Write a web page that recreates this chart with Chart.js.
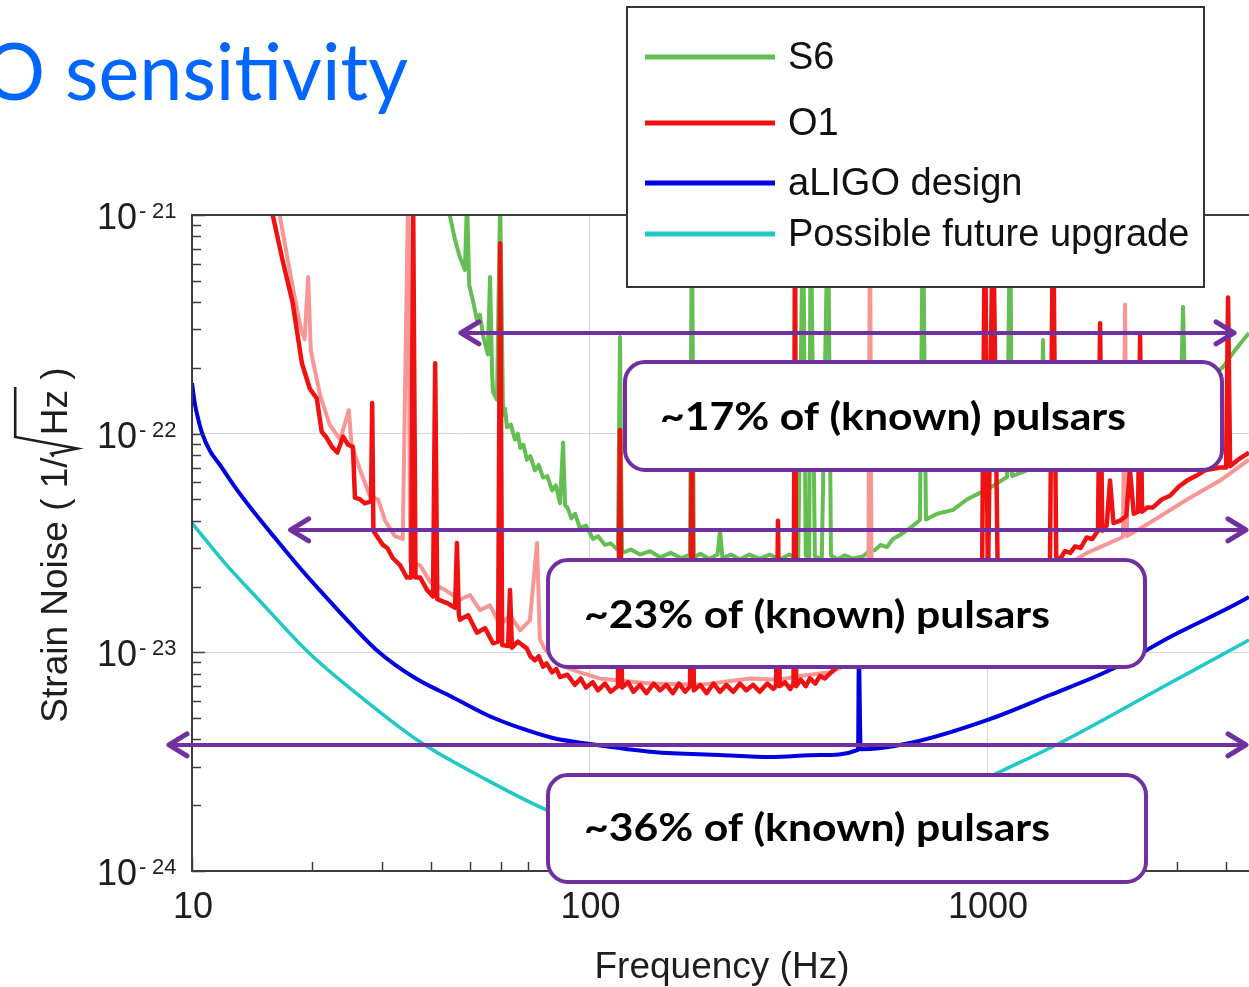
<!DOCTYPE html>
<html>
<head>
<meta charset="utf-8">
<script src="https://cdn.jsdelivr.net/npm/chart.js@4.4.0/dist/chart.umd.min.js"></script>
<style>
html,body{margin:0;padding:0;background:#fff;overflow:hidden}
#wrap{position:relative;width:1249px;height:987px}
</style>
</head>
<body>
<div id="wrap"><canvas id="c"></canvas></div>
<script>
// ---------------- DATA (frequency Hz, strain 1/sqrt(Hz)) ----------------
const seriesLabels = ['S6', 'O1', 'aLIGO design', 'Possible future upgrade'];

const s6Data = [
 [43.8,1.2e-21],[44.6,9.8e-22],[45.9,7.7e-22],[47.2,6.4e-22],[48.6,5.6e-22],[49.2,1.2e-21],[49.8,4.8e-22],
 [51.0,4.0e-22],[52.1,3.3e-22],[53.0,3.5e-22],[54.0,2.8e-22],[55.5,2.3e-22],[56.2,5.2e-22],[56.9,1.85e-22],
 [57.2,1.55e-22],[58.5,1.43e-22],[59.6,1.2e-21],[60.6,1.22e-22],[61.3,1.3e-22],[62.0,1.07e-22],[63.4,1.1e-22],
 [64.9,9.4e-23],[66.0,1.0e-22],[67.0,8.6e-23],[68.2,8.9e-23],[69.6,7.6e-23],[71.0,7.9e-23],[72.9,6.8e-23],
 [74.5,7.2e-23],[76.4,6.3e-23],[78.3,6.4e-23],[80.5,5.5e-23],[82.3,5.8e-23],[84.3,4.8e-23],[85.8,9.1e-23],
 [86.8,4.7e-23],[88.0,4.6e-23],[90.0,4.1e-23],[92.0,4.3e-23],[94.6,3.7e-23],[98.0,3.8e-23],[102,3.3e-23],
 [105,3.4e-23],[109.4,3.1e-23],[113,3.15e-23],[117.9,2.94e-23],[119.3,2.77e-22],[120.7,2.85e-23],[127,2.95e-23],
 [134,2.8e-23],[142,2.9e-23],[150.5,2.72e-23],[160,2.85e-23],[170,2.7e-23],[179,2.8e-23],[181,1.2e-21],
 [183,2.72e-23],[190,2.82e-23],[200,2.68e-23],[210,2.8e-23],[213,3.6e-23],[216,2.7e-23],[227,2.8e-23],
 [239,2.66e-23],[252,2.8e-23],[268,2.68e-23],[284,2.8e-23],[301,2.66e-23],[318,2.8e-23],[335,2.68e-23],
 [344.5,1.2e-21],[350,2.78e-23],[357,2.68e-23],[360,1.2e-21],[369,2.75e-23],[384,2.66e-23],[398,1.2e-21],
 [405,2.78e-23],[420,2.66e-23],[439,2.78e-23],[460,2.68e-23],[488,2.75e-23],[505,2.9e-23],[523,2.94e-23],
 [540,3.1e-23],[560,3.03e-23],[580,3.3e-23],[604,3.44e-23],[640,3.7e-23],[678,4.03e-23],[690,1.2e-21],
 [702,4.05e-23],[750,4.3e-23],[821,4.48e-23],[890,5.0e-23],[960,5.36e-23],[1040,5.8e-23],[1123,6.34e-23],
 [1143,1.2e-21],[1156,6.4e-23],[1260,6.8e-23],[1367,7.1e-23],[1383,2.68e-22],[1399,7.2e-23],[1925,1.04e-22],
 [2570,1.28e-22],[3076,1.5e-22],[3112,3.8e-22],[3150,1.52e-22],[3640,1.8e-22],[3925,2.02e-22],[4207,2.41e-22],
 [4561,2.89e-22],[4860,3.3e-22]
];

const o1HData = [
 [15.5,1.2e-21],[16.0,9.8e-22],[16.9,6.2e-22],[17.9,4.0e-22],[18.9,2.1e-22],[19.8,1.6e-22],[20.6,1.45e-22],
 [21.2,1.02e-22],[21.8,9.6e-23],[22.5,8.7e-23],[23.2,8.2e-23],[24.0,9.7e-23],[24.7,8.9e-23],[25.4,8.7e-23],
 [25.7,5.1e-23],[26.5,5.0e-23],[27.2,4.8e-23],[28.2,4.9e-23],[28.4,1.38e-22],[28.6,3.6e-23],[29.5,3.3e-23],
 [30.2,3.1e-23],[31.0,3.0e-23],[32.0,2.7e-23],[33.4,2.5e-23],[34.7,2.2e-23],[35.6,2.2e-23],[36.0,1.2e-21],
 [36.5,2.2e-23],[37.5,2.2e-23],[39.0,1.93e-23],[40.4,1.8e-23],[40.9,2.1e-22],[41.4,1.75e-23],[43.8,1.68e-23],
 [45.9,1.6e-23],[46.4,3.16e-23],[46.9,1.5e-23],[47.2,1.41e-23],[49.5,1.48e-23],[52.1,1.23e-23],[54.6,1.29e-23],
 [57.2,1.10e-23],[58.9,1.12e-23],[59.6,7.4e-22],[60.3,1.08e-23],[62.4,1.07e-23],[63.1,1.93e-23],[63.8,1.05e-23],
 [66.0,1.12e-23],[69.6,1.04e-23],[71.0,9.6e-24],[72.9,9.2e-24],[74.5,9.6e-24],[76.4,8.6e-24],[78.0,8.9e-24],
 [80.5,8.1e-24],[82.5,8.4e-24],[84.3,7.7e-24],[88,7.9e-24],[91.9,7.1e-24],[95,7.6e-24],[98,6.9e-24],
 [101.9,7.3e-24],[105,6.7e-24],[109.4,7.2e-24],[113,6.6e-24],[117.9,7.0e-24],[119.3,1.04e-22],[120.7,6.9e-24],
 [125,7.3e-24],[129,6.6e-24],[134,7.1e-24],[139,6.5e-24],[145,7.2e-24],[150.5,6.7e-24],[156,7.1e-24],
 [162,6.5e-24],[168,7.2e-24],[174,6.6e-24],[179,7.0e-24],[181,1.2e-22],[183,6.7e-24],[190,7.1e-24],
 [197,6.5e-24],[205,7.2e-24],[213,6.6e-24],[221,7.1e-24],[230,6.6e-24],[239,7.2e-24],[248,6.7e-24],
 [258,7.1e-24],[268,6.6e-24],[280,7.2e-24],[290,6.8e-24],[294.6,7.0e-24],[298,4.0e-23],[301,7.0e-24],
 [310,7.3e-24],[320,6.8e-24],[326,7.2e-24],[328.9,1.2e-21],[331,7.0e-24],[340,7.5e-24],[350,7.0e-24],
 [358.6,7.6e-24],[370,7.2e-24],[380,7.8e-24],[391,7.6e-24],[420,8.6e-24],[479,1.02e-23],[540,1.15e-23],
 [604,1.33e-23],[700,1.55e-23],[807,1.74e-23],[900,1.85e-23],[971,1.93e-23],[988,1.2e-21],[1005,1.9e-23],
 [1035,1.2e-21],[1065,2.0e-23],[1140,2.1e-23],[1211,2.2e-23],[1300,2.4e-23],[1400,2.5e-23],[1440,2.56e-23],
 [1466,1.2e-21],[1493,2.73e-23],[1530,2.68e-23],[1570,2.9e-23],[1620,2.85e-23],[1665,3.05e-23],[1720,3.0e-23],
 [1780,3.35e-23],[1840,3.3e-23],[1902,3.6e-23],[1925,3.2e-22],[1949,3.6e-23],[2000,3.8e-23],[2039,6.1e-23],
 [2080,3.9e-23],[2161,4.0e-23],[2240,4.2e-23],[2289,6.8e-23],[2340,4.3e-23],[2399,4.4e-23],[2427,2.8e-22],
 [2455,4.4e-23],[2530,4.6e-23],[2616,4.6e-23],[2750,5.0e-23],[2887,5.2e-23],[3030,5.7e-23],[3185,6.1e-23],
 [3350,6.4e-23],[3535,6.8e-23],[3857,7.0e-23],[3994,7.0e-23],[4040,4.2e-22],[4088,7.1e-23],[4281,7.6e-23],
 [4561,8.2e-23],[4800,8.6e-23]
];

const o1LData = [
 [16.2,1.2e-21],[16.65,9.8e-22],[17.6,5.6e-22],[18.7,3.14e-22],[19.2,2.7e-22],[19.6,5.2e-22],[19.9,2.4e-22],
 [21.0,1.5e-22],[22.2,1.1e-22],[23.6,9.4e-23],[24.8,1.28e-22],[25.2,8.9e-23],[26.5,6.8e-23],[28.0,5.2e-23],
 [29.4,5.0e-23],[30.6,4.0e-23],[32.4,3.4e-23],[33.9,3.3e-23],[34.95,1.2e-21],[35.4,2.6e-23],[37.5,2.5e-23],
 [39.7,2.1e-23],[43.3,1.93e-23],[47.2,1.74e-23],[50,1.83e-23],[53,1.56e-23],[56.2,1.64e-23],[59.6,1.33e-23],
 [63.1,1.48e-23],[66.9,1.26e-23],[70.8,1.4e-23],[73.8,3.16e-23],[75,1.15e-23],[77.3,1.03e-23],[84.3,8.75e-24],
 [94.6,8.1e-24],[106,7.6e-24],[142,7.2e-24],[190,7.1e-24],[253,7.6e-24],[300,7.5e-24],[338,7.8e-24],
 [403,8.1e-24],[502,9.7e-24],[507.7,1.2e-21],[513,9.7e-24],[604,1.14e-23],[807,1.48e-23],[1078,1.83e-23],
 [1440,2.26e-23],[1785,2.85e-23],[2198,3.37e-23],[2225,3.9e-22],[2252,3.4e-23],[2616,4.0e-23],[3185,5.0e-23],
 [3857,6.1e-23],[4561,7.6e-23],[4800,8.0e-23]
];

const designData = [
 [10,1.705e-22],[10.17,1.367e-22],[10.35,1.18e-22],[10.6,1.007e-22],[11.1,8.33e-23],[11.76,7.19e-23],
 [12.83,5.7e-23],[13.99,4.62e-23],[16.18,3.33e-23],[18.69,2.43e-23],[21.6,1.81e-23],[24.97,1.36e-23],
 [29.5,1.004e-23],[36.4,7.63e-24],[45.1,6.25e-24],[55.2,5.17e-24],[66.9,4.51e-24],[80.9,4.06e-24],
 [100,3.81e-24],[144.5,3.5e-24],[213,3.39e-24],[285,3.32e-24],[380,3.39e-24],[473.7,3.58e-24],[476,1.0e-23],
 [481,3.6e-24],[640,3.85e-24],[1000,4.9e-24],[1440,6.38e-24],[2039,8.3e-24],[2887,1.175e-23],[4561,1.79e-23],
 [4800,1.9e-23]
];

const upgradeData = [
 [10,3.9e-23],[12.1,2.56e-23],[14.74,1.736e-23],[19.7,9.93e-24],[27.2,6.05e-24],[37.5,3.89e-24],[55.2,2.61e-24],
 [78.2,1.9e-24],[100,1.62e-24],[150,1.31e-24],[250,1.22e-24],[400,1.31e-24],[600,1.62e-24],[800,2.19e-24],
 [1078,2.84e-24],[1526,3.85e-24],[2887,7.24e-24],[4561,1.139e-23],[4800,1.2e-23]
];

const xTickValues = [10, 100, 1000];
const xTickLabels = ['10', '100', '1000'];
const yTickValues = [1e-21, 1e-22, 1e-23, 1e-24];
const yTickExponents = ['-21', '-22', '-23', '-24'];

// sensitivity-level arrows: [from Hz, to Hz, strain level]
const arrowFromHz = [47.2, 17.6, 8.7];
const arrowToHz = [4207, 4508, 4508];
const arrowLevel = [2.89e-22, 3.63e-23, 3.77e-24];
const calloutTexts = ['~17% of (known) pulsars', '~23% of (known) pulsars', '~36% of (known) pulsars'];

// ---------------- STYLE ----------------
const RED = 'rgb(238,18,18)', PINK = 'rgb(248,150,150)', GREEN = 'rgb(100,190,82)',
      BLUE = 'rgb(0,0,225)', CYAN = 'rgb(32,200,200)', PURPLE = '#7030a0';
const SANS = '"Liberation Sans", Arial, sans-serif';

const toXY = arr => arr.map(p => ({x: p[0], y: p[1]}));
const common = {pointRadius: 0, tension: 0, fill: false, borderJoinStyle: 'round', clip: 0};

function minorLog(min, max) {
  const out = [];
  for (let e = Math.floor(Math.log10(min)); e <= Math.ceil(Math.log10(max)); e++) {
    for (let m = 1; m <= 9; m++) {
      const v = m * Math.pow(10, e);
      if (v >= min * 0.999 && v <= max * 1.001) out.push({v, major: m === 1});
    }
  }
  return out;
}

function rrect(ctx, x, y, w, h, r) {
  ctx.beginPath();
  ctx.moveTo(x + r, y);
  ctx.arcTo(x + w, y, x + w, y + h, r);
  ctx.arcTo(x + w, y + h, x, y + h, r);
  ctx.arcTo(x, y + h, x, y, r);
  ctx.arcTo(x, y, x + w, y, r);
  ctx.closePath();
}

const deco = {
  id: 'deco',
  beforeDraw(chart) {
    const c = chart.ctx;
    c.save(); c.fillStyle = '#fff'; c.fillRect(0, 0, chart.width, chart.height); c.restore();
  },
  afterDatasetsDraw(chart) {
    const ctx = chart.ctx, a = chart.chartArea, xs = chart.scales.x, ys = chart.scales.y;
    ctx.save();
    // frame
    ctx.strokeStyle = '#3c3c3c'; ctx.lineWidth = 2;
    ctx.beginPath();
    ctx.moveTo(a.right + 5, a.top); ctx.lineTo(a.left, a.top); ctx.lineTo(a.left, a.bottom); ctx.lineTo(a.right + 5, a.bottom);
    ctx.stroke();
    // inward ticks
    ctx.lineWidth = 1.5;
    minorLog(xs.min, xs.max).forEach(t => {
      const px = Math.round(xs.getPixelForValue(t.v)) + 0.5;
      const len = t.major ? 13 : 9;
      ctx.beginPath(); ctx.moveTo(px, a.bottom); ctx.lineTo(px, a.bottom - len); ctx.stroke();
    });
    minorLog(ys.min, ys.max).forEach(t => {
      const py = Math.round(ys.getPixelForValue(t.v)) + 0.5;
      const len = t.major ? 13 : 9;
      ctx.beginPath(); ctx.moveTo(a.left, py); ctx.lineTo(a.left + len, py); ctx.stroke();
    });
    // tick labels
    ctx.fillStyle = '#1e1e1e';
    ctx.font = '36px ' + SANS; ctx.textAlign = 'center'; ctx.textBaseline = 'alphabetic';
    xTickValues.forEach((v, i) => ctx.fillText(xTickLabels[i], xs.getPixelForValue(v) + 1, 918));
    yTickValues.forEach((v, i) => {
      const py = ys.getPixelForValue(v);
      ctx.font = '36px ' + SANS; ctx.textAlign = 'right';
      ctx.fillText('10', 137, py + 14);
      ctx.font = '22px ' + SANS; ctx.textAlign = 'left';
      const ex = yTickExponents[i];
      ctx.fillText(ex.charAt(0), 139, py + 3);
      ctx.fillText(ex.slice(1), 152, py + 3);
    });
    // x axis title
    ctx.font = '37px ' + SANS; ctx.textAlign = 'center';
    ctx.fillText('Frequency (Hz)', 722, 978);
    // y axis title with radical
    {
      const s = 37;
      ctx.font = s + 'px ' + SANS;
      const p1 = 'Strain Noise ( 1/', p2 = 'Hz )';
      const w1 = ctx.measureText(p1).width, w2 = ctx.measureText(p2).width, wr = 0.6 * s;
      const wHz = ctx.measureText('Hz').width;
      const total = w1 + wr + w2;
      ctx.save();
      ctx.translate(67, 545); ctx.rotate(-Math.PI / 2);
      ctx.textAlign = 'left';
      const u0 = -total / 2;
      ctx.fillText(p1, u0, 0);
      const u1 = u0 + w1;
      ctx.fillText(p2, u1 + wr, 0);
      ctx.strokeStyle = '#1e1e1e'; ctx.lineWidth = 2.6; ctx.lineJoin = 'miter';
      ctx.beginPath();
      ctx.moveTo(u1 + 0.02 * s, -0.36 * s);
      ctx.lineTo(u1 + 0.1 * s, -0.42 * s);
      ctx.lineTo(u1 + 0.24 * s, 0.27 * s);
      ctx.lineTo(u1 + 0.55 * s, -1.4 * s);
      ctx.lineTo(u1 + wr + wHz + 0.08 * s, -1.4 * s);
      ctx.stroke();
      ctx.restore();
    }
    // legend
    {
      const L = {x: 627, y: 7, w: 577, h: 280};
      ctx.fillStyle = '#fff'; ctx.fillRect(L.x, L.y, L.w, L.h);
      ctx.strokeStyle = '#333'; ctx.lineWidth = 2; ctx.strokeRect(L.x, L.y, L.w, L.h);
      const rows = [57, 123, 183, 234];
      const ds = chart.data.datasets;
      seriesLabels.forEach((lab, i) => {
        const d = ds.find(q => q.label === lab);
        ctx.strokeStyle = d.borderColor; ctx.lineWidth = 5; ctx.lineCap = 'butt';
        ctx.beginPath(); ctx.moveTo(645, rows[i]); ctx.lineTo(775, rows[i]); ctx.stroke();
        ctx.fillStyle = '#111'; ctx.font = '38px ' + SANS; ctx.textAlign = 'left';
        ctx.fillText(lab, 788, rows[i] + 12);
      });
    }
    // arrows
    ctx.strokeStyle = PURPLE; ctx.lineCap = 'round'; ctx.lineJoin = 'round';
    arrowLevel.forEach((lv, i) => {
      const yy = ys.getPixelForValue(lv);
      const x1 = xs.getPixelForValue(arrowFromHz[i]), x2 = xs.getPixelForValue(arrowToHz[i]);
      ctx.lineWidth = 4;
      ctx.beginPath(); ctx.moveTo(x1 + 2, yy); ctx.lineTo(x2 - 2, yy); ctx.stroke();
      ctx.lineWidth = 5;
      ctx.beginPath(); ctx.moveTo(x1 + 19, yy - 11); ctx.lineTo(x1 + 1, yy); ctx.lineTo(x1 + 19, yy + 11); ctx.stroke();
      ctx.beginPath(); ctx.moveTo(x2 - 19, yy - 11); ctx.lineTo(x2 - 1, yy); ctx.lineTo(x2 - 19, yy + 11); ctx.stroke();
    });
    // callout boxes
    const boxes = [
      {x: 625, y: 362, w: 597, h: 108, tx: 660, tw: 466, base: 430},
      {x: 548, y: 560, w: 597, h: 107, tx: 584, tw: 466, base: 628},
      {x: 548, y: 775, w: 598, h: 107, tx: 584, tw: 466, base: 841}
    ];
    boxes.forEach((b, i) => {
      rrect(ctx, b.x, b.y, b.w, b.h, 20);
      ctx.fillStyle = '#fff'; ctx.fill();
      ctx.strokeStyle = PURPLE; ctx.lineWidth = 4; ctx.stroke();
      ctx.font = 'bold 38px Lato, "Open Sans", sans-serif';
      const mw = ctx.measureText(calloutTexts[i]).width;
      ctx.save();
      ctx.translate(b.tx, b.base); ctx.scale(b.tw / mw, 1);
      ctx.fillStyle = '#000'; ctx.textAlign = 'left';
      ctx.fillText(calloutTexts[i], 0, 0);
      ctx.restore();
    });
    // slide title
    {
      ctx.font = '79px Lato, "Open Sans", sans-serif';
      const mw = ctx.measureText('sensitivity').width;
      ctx.save();
      ctx.translate(408, 100); ctx.scale(343 / mw, 1);
      ctx.fillStyle = '#0066ff'; ctx.textAlign = 'right';
      ctx.fillText('O sensitivity', 0, 0);
      ctx.restore();
    }
    ctx.restore();
  }
};

new Chart(document.getElementById('c'), {
  type: 'line',
  data: {
    datasets: [
      Object.assign({label: 'O1', data: toXY(o1HData), borderColor: RED, borderWidth: 4.5}, common),
      Object.assign({label: 'O1 (second detector)', data: toXY(o1LData), borderColor: PINK, borderWidth: 4}, common),
      Object.assign({label: 'S6', data: toXY(s6Data), borderColor: GREEN, borderWidth: 4}, common),
      Object.assign({label: 'aLIGO design', data: toXY(designData), borderColor: BLUE, borderWidth: 4, cubicInterpolationMode: 'monotone'}, common),
      Object.assign({label: 'Possible future upgrade', data: toXY(upgradeData), borderColor: CYAN, borderWidth: 3.6, cubicInterpolationMode: 'monotone'}, common)
    ]
  },
  options: {
    responsive: true,
    maintainAspectRatio: false,
    animation: false,
    events: [],
    layout: {padding: {left: 192, top: 215, right: 0, bottom: 116}},
    plugins: {legend: {display: false}, title: {display: false}, tooltip: {enabled: false}},
    scales: {
      x: {
        type: 'logarithmic', min: 10, max: 4561,
        afterBuildTicks: s => { s.ticks = xTickValues.map(v => ({value: v})); },
        afterFit: s => { s.height = 0; },
        ticks: {display: false},
        grid: {color: '#d6d6d6', lineWidth: 1, drawTicks: false},
        border: {display: false}
      },
      y: {
        type: 'logarithmic', min: 1e-24, max: 1e-21,
        afterBuildTicks: s => { s.ticks = yTickValues.map(v => ({value: v})); },
        afterFit: s => { s.width = 0; },
        ticks: {display: false},
        grid: {color: '#d6d6d6', lineWidth: 1, drawTicks: false},
        border: {display: false}
      }
    }
  },
  plugins: [deco]
});
</script>
</body>
</html>
